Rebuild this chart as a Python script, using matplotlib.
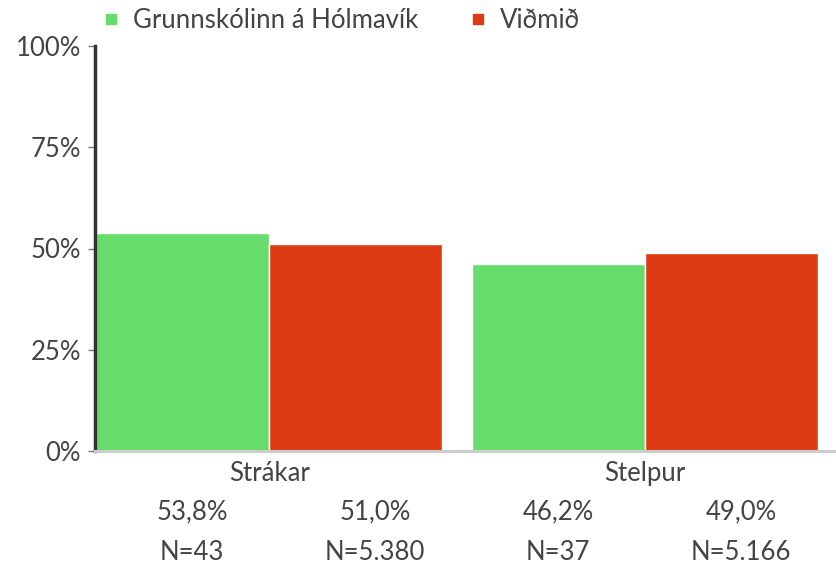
import matplotlib
matplotlib.use("Agg")
import matplotlib.pyplot as plt
from matplotlib.lines import Line2D

plt.rcParams["font.family"] = ["Lato", "DejaVu Sans"]

GROUPS = ["Strákar", "Stelpur"]
SERIES = ["Grunnskólinn á Hólmavík", "Viðmið"]
SCHOOL = [53.8, 46.2]
BENCH = [51.0, 49.0]
SCHOOL_N = ["43", "37"]
BENCH_N = ["5.380", "5.166"]

GREEN = "#66dd6a"
RED = "#de3a14"
TEXT = "#444444"
FS = 18.5

fig = plt.figure(figsize=(8.37, 5.70), dpi=100)
ax = fig.add_axes([95 / 837, 119 / 570, 742 / 837, 405 / 570])

w = 0.46
xs = range(len(GROUPS))
ax.bar([x - w / 2 for x in xs], SCHOOL, width=w, color=GREEN,
       edgecolor="white", linewidth=1)
ax.bar([x + w / 2 for x in xs], BENCH, width=w, color=RED,
       edgecolor="white", linewidth=1)

ax.set_xlim(-0.463, 1.51)
ax.set_ylim(0, 100)
ax.set_yticks([0, 25, 50, 75, 100])
ax.set_yticklabels(["0%", "25%", "50%", "75%", "100%"])
ax.set_xticks(list(xs))
ax.set_xticklabels(GROUPS)
ax.tick_params(axis="y", direction="out", length=5, width=1, color="#777777",
               labelsize=FS, labelcolor=TEXT, pad=5)
ax.tick_params(axis="x", length=0, labelsize=FS, labelcolor=TEXT, pad=7)

for s in ["top", "right"]:
    ax.spines[s].set_visible(False)
ax.spines["left"].set_color("#333333")
ax.spines["left"].set_linewidth(2.5)
ax.spines["bottom"].set_color("#cccccc")
ax.spines["bottom"].set_linewidth(2.2)

# value / N table under the bars
pcts = []
ns = []
for i in range(len(GROUPS)):
    pcts += [SCHOOL[i], BENCH[i]]
    ns += [SCHOOL_N[i], BENCH_N[i]]
for j, (p, n) in enumerate(zip(pcts, ns)):
    xf = (192 + 183 * j) / 837
    fig.text(xf, (570 - 512) / 570, f"{p:.1f}%".replace(".", ","),
             ha="center", va="center", fontsize=FS, color=TEXT)
    fig.text(xf, (570 - 552) / 570, f"N={n}",
             ha="center", va="center", fontsize=FS, color=TEXT)

handles = [
    Line2D([], [], marker="s", linestyle="none", markersize=7.5,
           color=GREEN, label=SERIES[0]),
    Line2D([], [], marker="s", linestyle="none", markersize=7.5,
           color=RED, label=SERIES[1]),
]
fig.legend(handles=handles, loc="center left",
           bbox_to_anchor=(103 / 837, (570 - 20) / 570), ncol=2,
           frameon=False, fontsize=FS, handlelength=0.6, handletextpad=0.55,
           columnspacing=2.05, labelcolor=TEXT, borderaxespad=0, borderpad=0)

fig.savefig("out.png", dpi=100)
